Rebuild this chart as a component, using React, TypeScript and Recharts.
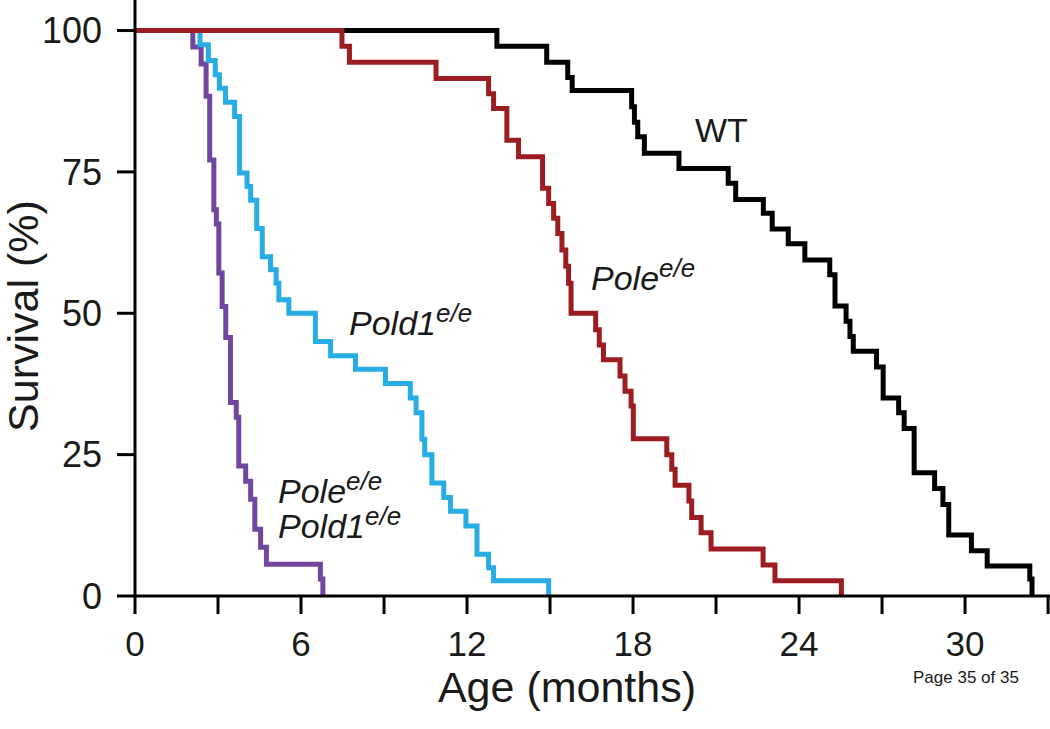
import React from 'react';
import { LineChart, Line, XAxis, YAxis, Customized } from 'recharts';

// Kaplan-Meier steps: months at which survival (%) drops to the given value
const wtMonths = [0, 13.08, 14.88, 15.64, 15.8, 17.95, 18.05, 18.17, 18.41, 19.66, 21.44, 21.71, 22.71, 23.03, 23.61, 24.21, 25.11, 25.3, 25.7, 25.84, 25.96, 26.8, 27.04, 27.6, 27.8, 28.16, 28.9, 29.2, 29.41, 30.23, 30.8, 32.34, 32.42];
const wtSurvival = [100, 97.2, 94.4, 91.7, 89.4, 86.5, 83.8, 81.2, 78.3, 75.6, 73, 70.1, 67.7, 64.9, 62.3, 59.4, 56.8, 51.3, 48.6, 45.9, 43.3, 40.5, 35, 32.4, 29.6, 21.8, 19, 16.2, 10.8, 8, 5.3, 3, 0];

const poleMonths = [0, 7.48, 7.75, 10.88, 12.78, 12.96, 13.44, 13.86, 14.73, 14.95, 15.13, 15.28, 15.43, 15.57, 15.67, 15.76, 16.65, 16.78, 16.93, 17.53, 17.71, 17.93, 18.01, 19.22, 19.4, 19.52, 20.02, 20.12, 20.46, 20.82, 22.7, 23.13, 25.53];
const poleSurvival = [100, 97.2, 94.4, 91.5, 88.8, 86.2, 80.6, 77.7, 72.1, 69.4, 66.8, 64.1, 61.2, 58.3, 55.3, 50, 47.1, 44.4, 41.8, 38.9, 36.2, 33.6, 27.8, 25, 22.4, 19.6, 16.8, 13.9, 11.2, 8.3, 5.5, 2.7, 0];

const pold1Months = [0, 2.35, 2.65, 2.9, 3.05, 3.27, 3.6, 3.78, 4.05, 4.18, 4.4, 4.6, 4.9, 5.1, 5.2, 5.56, 6.52, 7.07, 7.97, 9.05, 9.95, 10.16, 10.37, 10.47, 10.73, 11.16, 11.4, 11.96, 12.36, 12.78, 12.96, 14.95];
const pold1Survival = [100, 97.5, 94.7, 92.2, 89.8, 87.3, 84.8, 74.8, 72.4, 70, 65, 60, 57.7, 55.3, 52.4, 50, 45, 42.5, 40.1, 37.6, 35, 32.4, 27.7, 25, 20, 17.4, 15, 12.4, 7.4, 5, 2.7, 0];

const doubleMonths = [0, 2.09, 2.39, 2.57, 2.7, 2.85, 2.94, 3.03, 3.15, 3.28, 3.45, 3.66, 3.75, 4.0, 4.18, 4.33, 4.54, 4.75, 6.7, 6.79];
const doubleSurvival = [100, 97.1, 94.1, 88.4, 77.1, 68.3, 65.8, 57.1, 51.2, 45.7, 34.2, 31.6, 23, 20.3, 17.1, 11.8, 8.6, 5.6, 3, 0];

const xTicks = [0, 3, 6, 9, 12, 15, 18, 21, 24, 27, 30, 33];
const yTicks = [0, 25, 50, 75, 100];

const toRows = (months: number[], surv: number[]) => months.map((m, i) => ({ m, s: surv[i] }));

const FONT = '"Liberation Sans", Arial, Helvetica, sans-serif';
const TEXT = '#1a1a1a';

const Annotations = () => (
  <g fontFamily={FONT} fill={TEXT}>
    <text x={695} y={142} fontSize={34}>WT</text>
    <text x={591} y={290} fontSize={34} fontStyle="italic">
      Pole<tspan dy={-13} fontSize={26}>e/e</tspan>
    </text>
    <text x={349} y={335} fontSize={34} fontStyle="italic">
      Pold1<tspan dy={-13} fontSize={26}>e/e</tspan>
    </text>
    <text x={278} y={503} fontSize={34} fontStyle="italic">
      Pole<tspan dy={-13} fontSize={26}>e/e</tspan>
    </text>
    <text x={278} y={538} fontSize={34} fontStyle="italic">
      Pold1<tspan dy={-13} fontSize={26}>e/e</tspan>
    </text>
    <text x={567} y={702} fontSize={43} textAnchor="middle">Age (months)</text>
    <text x={38} y={316} fontSize={43} textAnchor="middle" transform="rotate(-90 38 316)">Survival (%)</text>
    <text x={913} y={683} fontSize={17}>Page 35 of 35</text>
  </g>
);

export default function App() {
  const lineProps = {
    type: 'stepAfter' as const,
    dataKey: 's',
    dot: false,
    activeDot: false,
    strokeWidth: 5,
    strokeLinejoin: 'miter' as const,
    isAnimationActive: false,
  };
  return (
    <div style={{ width: 1050, height: 729 }}>
      <style>{'body{margin:0}'}</style>
      <LineChart width={1050} height={729} margin={{ top: 0, right: 0, bottom: 0, left: 0 }}>
        <XAxis
          type="number"
          dataKey="m"
          domain={[0, 33.07]}
          ticks={xTicks}
          interval={0}
          height={133}
          tickSize={18}
          tickMargin={17}
          tickFormatter={(v: number) => (v % 6 === 0 && v <= 30 ? String(v) : '')}
          axisLine={{ stroke: '#000', strokeWidth: 3 }}
          tickLine={{ stroke: '#000', strokeWidth: 3 }}
          tick={{ fill: TEXT, fontSize: 35, fontFamily: FONT }}
          allowDataOverflow
        />
        <YAxis
          type="number"
          domain={[0, 105.4]}
          ticks={yTicks}
          interval={0}
          width={135}
          tickSize={18}
          tickMargin={15}
          axisLine={{ stroke: '#000', strokeWidth: 3 }}
          tickLine={{ stroke: '#000', strokeWidth: 3 }}
          tick={{ fill: TEXT, fontSize: 36, fontFamily: FONT }}
          allowDataOverflow
        />
        <Line {...lineProps} data={toRows(wtMonths, wtSurvival)} stroke="#000000" />
        <Line {...lineProps} data={toRows(doubleMonths, doubleSurvival)} stroke="#7046a0" />
        <Line {...lineProps} data={toRows(pold1Months, pold1Survival)} stroke="#27ade4" />
        <Line {...lineProps} data={toRows(poleMonths, poleSurvival)} stroke="#9d1c22" />
        <Customized component={Annotations} />
      </LineChart>
    </div>
  );
}
